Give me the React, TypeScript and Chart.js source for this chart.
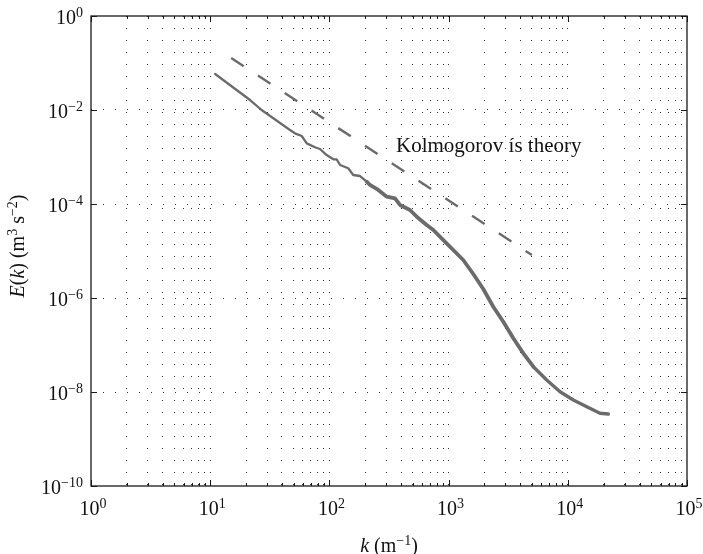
import { useEffect, useRef } from "react";
import { Chart, registerables } from "chart.js";

Chart.register(...registerables);

// Measured energy spectrum E(k)
const spectrumK = [11.0, 21.6, 27.0, 46.7, 51.4, 58.6, 64.6, 75.7, 83.4, 94.8, 108, 115, 123, 144, 158.5, 180.7, 205.6, 219, 257, 303, 355, 391, 474, 540, 655, 745, 904, 1094, 1327, 1611, 1954, 2371, 2877, 3491, 4236, 5140, 6653, 8610, 11120, 14420, 18620, 21880];
const spectrumE = [0.0583, 0.0163, 0.0100, 3.75e-3, 3.19e-3, 2.80e-3, 1.95e-3, 1.61e-3, 1.48e-3, 1.10e-3, 8.93e-4, 8.93e-4, 6.76e-4, 5.75e-4, 4.14e-4, 3.94e-4, 2.98e-4, 2.54e-4, 1.99e-4, 1.43e-4, 1.32e-4, 9.53e-5, 7.45e-5, 5.37e-5, 3.57e-5, 2.80e-5, 1.71e-5, 1.05e-5, 6.44e-6, 3.24e-6, 1.55e-6, 6.53e-7, 3.13e-7, 1.39e-7, 6.65e-8, 3.45e-8, 1.80e-8, 1.01e-8, 6.76e-9, 4.86e-9, 3.52e-9, 3.40e-9];

// Kolmogorov -5/3 reference line
const kolmogorovK = [15, 5000];
const kolmogorovE = [0.128, 8.2e-6];

// Axis ticks
const xMajorTicks = [1, 10, 100, 1000, 10000, 100000];
const xTickExponents = ["0", "1", "2", "3", "4", "5"];
const xMinorMultipliers = [2, 3, 4, 5, 6, 7, 8, 9];
const yMajorTicks = [1, 1e-2, 1e-4, 1e-6, 1e-8, 1e-10];
const yTickExponents = ["0", "\u22122", "\u22124", "\u22126", "\u22128", "\u221210"];

// Annotation
const annotationText = "Kolmogorov \u00eds theory";
const annotationK = 362;
const annotationE = 1.28e-3;

const FONT = '"Liberation Serif", "Times New Roman", serif';
const BASE = 20;
const SUP = 14;

type Seg = { t: string; italic?: boolean; sup?: boolean };

function segFont(s: Seg) {
  return `${s.italic ? "italic " : ""}${s.sup ? SUP : BASE}px ${FONT}`;
}

function segsWidth(ctx: CanvasRenderingContext2D, segs: Seg[]) {
  let w = 0;
  for (const s of segs) {
    ctx.font = segFont(s);
    w += ctx.measureText(s.t).width;
  }
  return w;
}

function drawSegs(ctx: CanvasRenderingContext2D, segs: Seg[], x: number, y: number) {
  let cx = x;
  ctx.textAlign = "left";
  ctx.textBaseline = "alphabetic";
  for (const s of segs) {
    ctx.font = segFont(s);
    ctx.fillText(s.t, cx, s.sup ? y - 7 : y);
    cx += ctx.measureText(s.t).width;
  }
}

const decorPlugin = {
  id: "decor",
  afterDraw(chart: any) {
    const ctx: CanvasRenderingContext2D = chart.ctx;
    const xs = chart.scales.x;
    const ys = chart.scales.y;
    const { left, right, top, bottom } = chart.chartArea;
    ctx.save();
    // box
    ctx.strokeStyle = "#1a1a1a";
    ctx.lineWidth = 1.3;
    ctx.strokeRect(left, top, right - left, bottom - top);

    // x ticks (top & bottom, inward)
    ctx.lineWidth = 1;
    ctx.beginPath();
    xMajorTicks.forEach((v, i) => {
      const px = Math.round(xs.getPixelForValue(v)) + 0.5;
      ctx.moveTo(px, bottom);
      ctx.lineTo(px, bottom - 6);
      ctx.moveTo(px, top);
      ctx.lineTo(px, top + 6);
      if (i < xMajorTicks.length - 1) {
        xMinorMultipliers.forEach((m) => {
          const mp = Math.round(xs.getPixelForValue(v * m)) + 0.5;
          ctx.moveTo(mp, bottom);
          ctx.lineTo(mp, bottom - 3);
          ctx.moveTo(mp, top);
          ctx.lineTo(mp, top + 3);
        });
      }
    });
    // y ticks (left & right, inward)
    yMajorTicks.forEach((v) => {
      const py = Math.round(ys.getPixelForValue(v)) + 0.5;
      ctx.moveTo(left, py);
      ctx.lineTo(left + 6, py);
      ctx.moveTo(right, py);
      ctx.lineTo(right - 6, py);
    });
    ctx.stroke();

    ctx.fillStyle = "#111";
    // x tick labels
    xMajorTicks.forEach((v, i) => {
      const segs: Seg[] = [{ t: "10" }, { t: xTickExponents[i], sup: true }];
      const w = segsWidth(ctx, segs);
      const px = xs.getPixelForValue(v);
      drawSegs(ctx, segs, px - w / 2 + 2, 515);
    });
    // y tick labels
    yMajorTicks.forEach((v, i) => {
      const segs: Seg[] = [{ t: "10" }, { t: yTickExponents[i], sup: true }];
      const w = segsWidth(ctx, segs);
      const py = ys.getPixelForValue(v);
      drawSegs(ctx, segs, 83 - w, py + 8);
    });

    // x title
    const xt: Seg[] = [{ t: "k", italic: true }, { t: " (m" }, { t: "\u22121", sup: true }, { t: ")" }];
    const xtw = segsWidth(ctx, xt);
    drawSegs(ctx, xt, (left + right) / 2 - xtw / 2, 552);

    // y title
    const yt: Seg[] = [
      { t: "E", italic: true },
      { t: "(" },
      { t: "k", italic: true },
      { t: ") (m" },
      { t: "3", sup: true },
      { t: " s" },
      { t: "\u22122", sup: true },
      { t: ")" },
    ];
    const ytw = segsWidth(ctx, yt);
    ctx.save();
    ctx.translate(24, 246);
    ctx.rotate(-Math.PI / 2);
    drawSegs(ctx, yt, -ytw / 2, 0);
    ctx.restore();

    // annotation
    ctx.font = `21px ${FONT}`;
    ctx.textAlign = "left";
    ctx.textBaseline = "alphabetic";
    ctx.fillText(annotationText, xs.getPixelForValue(annotationK), ys.getPixelForValue(annotationE));
    ctx.restore();
  },
};

export default function App() {
  const ref = useRef<HTMLCanvasElement | null>(null);
  useEffect(() => {
    document.body.style.margin = "0";
    const canvas = ref.current;
    if (!canvas) return;
    const xGridTicks: number[] = [];
    xMajorTicks.forEach((v, i) => {
      xGridTicks.push(v);
      if (i < xMajorTicks.length - 1) xMinorMultipliers.forEach((m) => xGridTicks.push(v * m));
    });
    const chart = new Chart(canvas, {
      type: "line",
      data: {
        datasets: [
          {
            data: spectrumK.map((k, i) => ({ x: k, y: spectrumE[i] })),
            borderColor: "#6b6b6b",
            borderWidth: 2.4,
            pointRadius: 0,
            tension: 0,
            borderJoinStyle: "round",
            borderCapStyle: "round",
            segment: {
              borderWidth: (c: any) => {
                const k = c.p0.parsed.x;
                if (k < 200) return 2.3;
                if (k < 5000) return 3.8;
                return 3.4;
              },
            },
          } as any,
          {
            data: kolmogorovK.map((k, i) => ({ x: k, y: kolmogorovE[i] })),
            borderColor: "#6b6b6b",
            borderWidth: 2.4,
            borderDash: [15, 17],
            pointRadius: 0,
            tension: 0,
          },
        ],
      },
      options: {
        animation: false,
        responsive: false,
        events: [],
        layout: { padding: { top: 16, right: 16, left: 0, bottom: 0 } },
        plugins: { legend: { display: false }, tooltip: { enabled: false } },
        scales: {
          x: {
            type: "logarithmic",
            min: 1,
            max: 100000,
            afterBuildTicks: (s: any) => {
              s.ticks = xGridTicks.map((v) => ({ value: v }));
            },
            afterFit: (s: any) => {
              s.height = 68;
            },
            ticks: { display: false },
            border: { display: false, dash: [1, 11] },
            grid: {
              drawTicks: false,
              lineWidth: 1,
              color: (c: any) =>
                c.tick && (c.tick.value === 1 || c.tick.value === 100000) ? "rgba(0,0,0,0)" : "#333",
            },
          },
          y: {
            type: "logarithmic",
            min: 1e-10,
            max: 1,
            afterBuildTicks: (s: any) => {
              s.ticks = yMajorTicks.map((v) => ({ value: v }));
            },
            afterFit: (s: any) => {
              s.width = 91;
            },
            ticks: { display: false },
            border: { display: false, dash: [1, 11] },
            grid: {
              drawTicks: false,
              lineWidth: 1,
              color: (c: any) =>
                c.tick && (c.tick.value === 1 || c.tick.value === 1e-10) ? "rgba(0,0,0,0)" : "#333",
            },
          },
        },
      } as any,
      plugins: [decorPlugin],
    });
    return () => chart.destroy();
  }, []);
  return <canvas ref={ref} width={703} height={554} style={{ display: "block" }} />;
}
